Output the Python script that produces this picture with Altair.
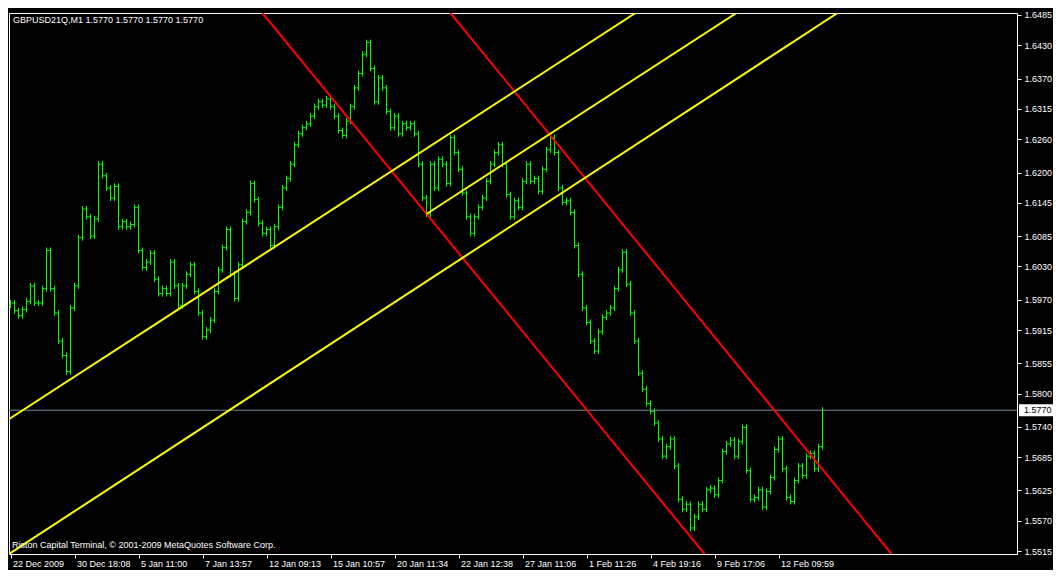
import altair as alt
import pandas as pd

# ---------------- data ----------------
closes = [
    1.5964, 1.5950, 1.5941, 1.5952, 1.5967, 1.5995, 1.5964, 1.5964, 1.5990, 1.6059,
    1.5990, 1.5946, 1.5895, 1.5869, 1.5840, 1.5955, 1.5995, 1.6082, 1.6134, 1.6120,
    1.6085, 1.6116, 1.6215, 1.6194, 1.6172, 1.6154, 1.6175, 1.6102, 1.6111, 1.6102,
    1.6106, 1.6137, 1.6059, 1.6028, 1.6038, 1.6054, 1.6007, 1.5981, 1.5990, 1.5981,
    1.6038, 1.5995, 1.5959, 1.5995, 1.6016, 1.6033, 1.5985, 1.5946, 1.5903, 1.5915,
    1.5933, 1.5985, 1.6024, 1.6064, 1.6097, 1.6016, 1.5972, 1.6033, 1.6111, 1.6128,
    1.6180, 1.6151, 1.6108, 1.6090, 1.6097,
    1.6068, 1.6102, 1.6137, 1.6172, 1.6189, 1.6215, 1.6250, 1.6270, 1.6281, 1.6288,
    1.6302, 1.6319, 1.6328, 1.6322, 1.6333, 1.6319, 1.6302, 1.6276, 1.6267, 1.6293,
    1.6319, 1.6353, 1.6379, 1.6414, 1.6435, 1.6388, 1.6328, 1.6371, 1.6353, 1.6310,
    1.6281, 1.6302, 1.6270, 1.6288, 1.6281, 1.6288, 1.6270, 1.6215, 1.6154, 1.6125,
    1.6215, 1.6172, 1.6224, 1.6215, 1.6180, 1.6263, 1.6236, 1.6206, 1.6163, 1.6120,
    1.6090, 1.6120, 1.6137, 1.6154, 1.6184, 1.6215, 1.6236, 1.6250, 1.6215, 1.6160,
    1.6120, 1.6149, 1.6137, 1.6184, 1.6215, 1.6184, 1.6189, 1.6166, 1.6206, 1.6241,
    1.6263, 1.6236, 1.6172, 1.6146, 1.6149, 1.6128, 1.6068, 1.6016, 1.5955, 1.5929,
    1.5895, 1.5877, 1.5912, 1.5938, 1.5946, 1.5955, 1.5990, 1.6024, 1.6056, 1.5998,
    1.5946, 1.5895, 1.5837, 1.5808, 1.5782, 1.5768, 1.5747, 1.5718, 1.5687, 1.5704,
    1.5718, 1.5669, 1.5609, 1.5591, 1.5600, 1.5557, 1.5577, 1.5600, 1.5591, 1.5626,
    1.5629, 1.5617, 1.5643, 1.5695, 1.5709, 1.5716, 1.5687, 1.5713, 1.5739, 1.5661,
    1.5609, 1.5612, 1.5626, 1.5595, 1.5623, 1.5648, 1.5699, 1.5718, 1.5664, 1.5612,
    1.5605, 1.5643, 1.5669, 1.5652, 1.5687, 1.5692, 1.5664, 1.5704, 1.5770,
]
first_open = 1.5960

x_tick_bars = [0, 16, 32, 48, 64, 80, 96, 112, 128, 144, 160, 176, 192]
x_tick_labels = ["22 Dec 2009", "30 Dec 18:08", "5 Jan 11:00", "7 Jan 13:57",
                 "12 Jan 09:13", "15 Jan 10:57", "20 Jan 11:34", "22 Jan 12:38",
                 "27 Jan 11:06", "1 Feb 11:26", "4 Feb 19:16", "9 Feb 17:06",
                 "12 Feb 09:59"]
y_tick_values = [1.5515, 1.5570, 1.5625, 1.5685, 1.5740, 1.5800, 1.5855, 1.5915,
                 1.5970, 1.6030, 1.6085, 1.6145, 1.6200, 1.6260, 1.6315, 1.6370,
                 1.6430, 1.6485]

# trend lines (bar index, price) endpoints
line_kind = ["red", "red", "yellow", "yellow", "yellow"]
line_i0 = [63.0, 110.0, -1.0, 104.0, -1.0]
line_p0 = [1.64885, 1.64885, 1.5751, 1.6125, 1.5507]
line_i1 = [173.5, 220.25, 156.25, 181.5, 206.75]
line_p1 = [1.5510, 1.5510, 1.64885, 1.64885, 1.64885]

title_text = "GBPUSD21Q,M1  1.5770 1.5770 1.5770 1.5770"
footer_text = "Riston Capital Terminal, \u00a9 2001-2009 MetaQuotes Software Corp."

# ---------------- build chart ----------------
W, H = 1008, 541
FONT = "Liberation Sans"
GREEN = "#00ff00"

n = len(closes)
opens = [first_open] + closes[:-1]
bars = pd.DataFrame({"bar": list(range(n)), "open": opens, "close": closes})
bars["hi"] = bars[["open", "close"]].max(axis=1)
bars["lo"] = bars[["open", "close"]].min(axis=1)

lines = pd.DataFrame({"kind": line_kind, "i0": line_i0, "p0": line_p0,
                      "i1": line_i1, "p1": line_p1})
bid = pd.DataFrame({"price": [closes[-1]]})

xs = alt.Scale(domain=[-0.375, 251.625], nice=False, zero=False)
ys = alt.Scale(domain=[1.5510, 1.64885], nice=False, zero=False)

label_expr = ("[" + ",".join("'%s'" % s for s in x_tick_labels) +
              "][round(datum.value/16)]")

x_axis = alt.Axis(values=x_tick_bars, labelExpr=label_expr, labelAlign="left",
                  labelOffset=2, labelFlush=False, labelOverlap=False,
                  tickSize=4, labelPadding=1, title=None, orient="bottom",
                  labelBaseline="top")
y_axis = alt.Axis(values=y_tick_values, format=".4f", orient="right",
                  tickSize=4, labelPadding=3, labelOverlap=False,
                  labelFlush=False, title=None, labelBaseline="middle")


def X(field):
    return alt.X(field, scale=xs, axis=x_axis, title=None)


def Y(field):
    return alt.Y(field, scale=ys, axis=y_axis, title=None)


base = alt.Chart(bars)
bar_rules = base.mark_rule(color=GREEN, strokeWidth=1, clip=True,
                           yOffset=-3, y2Offset=3).encode(
    x=X("bar:Q"), y=Y("hi:Q"), y2="lo:Q",
)
open_ticks = base.mark_rule(color=GREEN, strokeWidth=1, clip=True,
                            xOffset=-2, x2Offset=0).encode(
    x=X("bar:Q"), x2="bar:Q", y=Y("open:Q"), y2="open:Q",
)
close_ticks = base.mark_rule(color=GREEN, strokeWidth=1, clip=True,
                             xOffset=0, x2Offset=2).encode(
    x=X("bar:Q"), x2="bar:Q", y=Y("close:Q"), y2="close:Q",
)

bid_line = alt.Chart(bid).mark_rule(color="#778899", strokeWidth=1).encode(
    y=Y("price:Q")
)

trend = alt.Chart(lines).mark_rule(strokeWidth=2, clip=True).encode(
    x=X("i0:Q"), x2="i1:Q",
    y=Y("p0:Q"), y2="p1:Q",
    color=alt.Color("kind:N", scale=alt.Scale(domain=["red", "yellow"],
                                              range=["#ff0000", "#ffff00"]),
                    legend=None),
)

bid_box = alt.Chart(bid).mark_rect(color="white", yOffset=-6, y2Offset=6).encode(
    x=alt.value(W + 2), x2=alt.value(W + 36),
    y=Y("price:Q"), y2="price:Q",
)
bid_text = alt.Chart(bid).mark_text(color="black", align="left", baseline="middle",
                                    font=FONT, fontSize=9).encode(
    x=alt.value(W + 7),
    y=Y("price:Q"),
    text=alt.Text("price:Q", format=".4f"),
)

title_mark = alt.Chart(pd.DataFrame({"t": [title_text]})).mark_text(
    color="white", align="left", baseline="middle", font=FONT, fontSize=9
).encode(x=alt.value(4), y=alt.value(7), text="t:N")

footer_mark = alt.Chart(pd.DataFrame({"t": [footer_text]})).mark_text(
    color="white", align="left", baseline="middle", font=FONT, fontSize=9
).encode(x=alt.value(3), y=alt.value(H - 9), text="t:N")

chart = alt.layer(
    bar_rules, open_ticks, close_ticks, bid_line, trend,
    bid_box, bid_text, title_mark, footer_mark
).properties(
    width=W, height=H,
    autosize=alt.AutoSizeParams(type="none"),
    padding={"left": 1, "top": 5, "right": 36, "bottom": 16},
).configure(
    background="black"
).configure_view(
    stroke="white", strokeWidth=1, fill="black"
).configure_axis(
    grid=False, domain=False, tickColor="white", labelColor="white",
    labelFont=FONT, labelFontSize=9, ticks=True
)

chart.save("out.html", embed_options={"renderer": "svg", "actions": False})
